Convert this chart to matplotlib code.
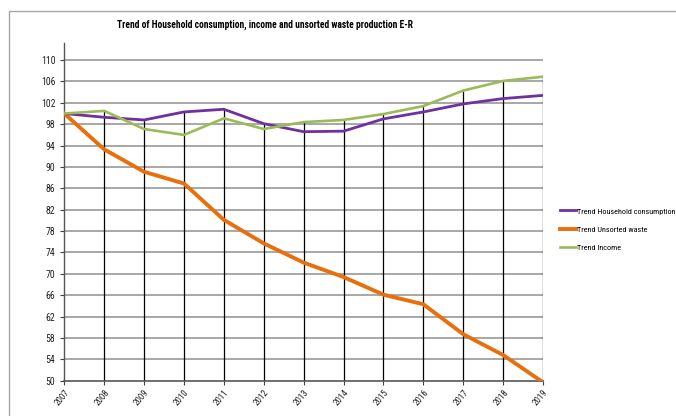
import numpy as np
import matplotlib
matplotlib.use("Agg")
import matplotlib.pyplot as plt
from matplotlib import font_manager
from matplotlib.patches import Rectangle

names = sorted({f.name for f in font_manager.fontManager.ttflist})
narrow = [n for n in ["Liberation Sans Narrow", "DejaVu Sans Condensed", "Roboto Condensed",
                      "Open Sans Condensed", "Noto Sans Condensed", "Liberation Sans"] if n in names]
plt.rcParams["font.family"] = narrow[:1] + ["DejaVu Sans"]

# data (index, 2007 = 100)
years = np.arange(2007, 2020)
household = [100.0, 99.3, 98.8, 100.3, 100.8, 98.1, 96.6, 96.7, 99.0, 100.3, 101.8, 102.8, 103.4]
unsorted_waste = [100.0, 93.3, 89.1, 86.9, 80.1, 75.7, 72.1, 69.4, 66.1, 64.3, 58.7, 54.8, 49.7]
income = [100.0, 100.5, 97.1, 96.0, 99.1, 97.1, 98.4, 98.8, 99.9, 101.4, 104.3, 106.1, 106.9]
y_ticks = np.arange(50, 111, 4)

fig = plt.figure(figsize=(6.76, 4.16), dpi=100)
ax = fig.add_axes([0.0951, 0.0849, 0.7082, 0.8117])

# outer chart border
fig.patches.append(Rectangle((9 / 676, -0.1), 1.0, 1 - 11 / 416 + 0.1,
                             transform=fig.transFigure, fill=False,
                             edgecolor="#a6a6a6", lw=1.0))

# horizontal gridlines
for v in y_ticks[1:]:
    ax.axhline(v, color="#a0a0a0", lw=1.3, zorder=1)

# drop lines
top = np.maximum.reduce([household, unsorted_waste, income])
ax.vlines(years[1:], 50, top[1:], color="black", lw=0.9, zorder=2)

ax.plot(years, household, color="#7030a0", lw=2.0, zorder=4,
        label="Trend Household consumption")
ax.plot(years, unsorted_waste, color="#e8700c", lw=2.8, zorder=3,
        label="Trend Unsorted waste")
ax.plot(years, income, color="#9bbb59", lw=1.9, zorder=5,
        label="Trend Income")

ax.set_xlim(2007, 2019)
ax.set_ylim(50, 113.2)
ax.set_yticks(y_ticks)
ax.set_xticks(years)
ax.set_xticklabels([str(y) for y in years], rotation=50, ha="right",
                   rotation_mode="anchor", fontsize=6.5, color="#202020")
ax.tick_params(axis="y", labelsize=7, length=3, color="#404040", labelcolor="#202020")
ax.tick_params(axis="x", length=3, pad=2, color="#404040")

for side in ["top", "right"]:
    ax.spines[side].set_visible(False)
ax.spines["left"].set_color("#555555")
ax.spines["bottom"].set_color("#555555")
ax.spines["left"].set_linewidth(1.0)
ax.spines["bottom"].set_linewidth(1.2)

title = fig.text(265 / 676, 1 - 25 / 416,
                 "Trend of Household consumption, income and unsorted waste production E-R",
                 ha="center", va="center", fontsize=8, fontweight="bold")

leg = fig.legend(loc="center left", bbox_to_anchor=(551 / 676, 1 - 229 / 416),
                 frameon=False, fontsize=7, handlelength=1.7, handletextpad=0.1,
                 labelspacing=1.05)

# the reference uses a narrow font: shrink texts to the widths seen there
renderer = fig.canvas.get_renderer()
w = title.get_window_extent(renderer).width
title.set_fontsize(min(8, 8 * 297 / w))
lab = leg.get_texts()[0]
w = lab.get_window_extent(renderer).width
for t in leg.get_texts():
    t.set_fontsize(min(7, 7 * 100 / w))

fig.savefig("out.png", dpi=100)
